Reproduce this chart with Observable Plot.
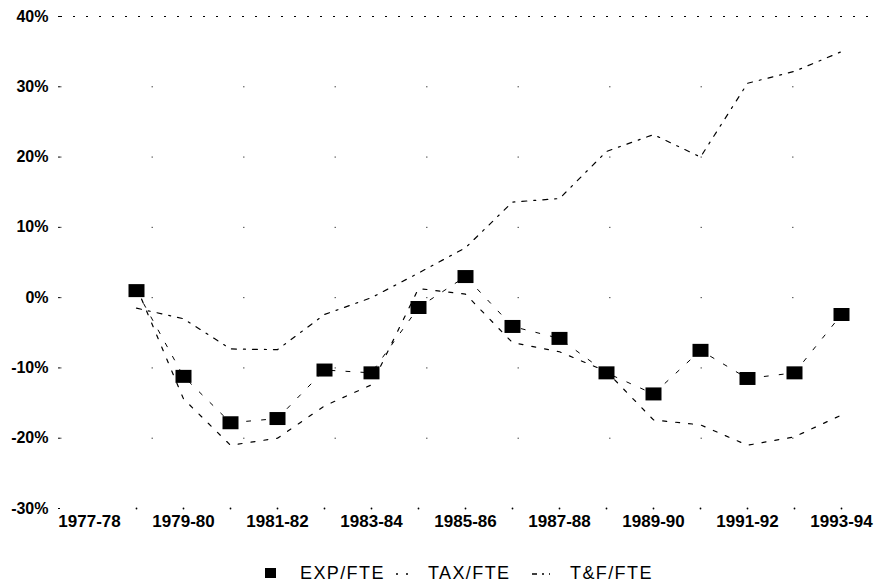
<!DOCTYPE html>
<html>
<head>
<meta charset="utf-8">
<script src="https://cdn.jsdelivr.net/npm/d3@7"></script>
<script src="https://cdn.jsdelivr.net/npm/@observablehq/plot@0.6"></script>
<style>
  html, body { margin: 0; padding: 0; background: #fff; }
  #wrap { position: relative; width: 883px; height: 588px; font-family: "Liberation Sans", Arial, sans-serif; color: #000; }
  #legend { position: absolute; left: 0; top: 545px; width: 883px; height: 43px; }
  #legend .item { position: absolute; top: 18px; font-size: 18px; line-height: 20px; letter-spacing: 1.4px; white-space: nowrap; }
  #legend svg { position: absolute; top: 18px; }
</style>
</head>
<body>
<div id="wrap">
  <div id="chart"></div>
  <div id="legend"></div>
</div>
<script>
// ---- data ----
const years = ["1977-78","1978-79","1979-80","1980-81","1981-82","1982-83","1983-84","1984-85","1985-86",
               "1986-87","1987-88","1988-89","1989-90","1990-91","1991-92","1992-93","1993-94"];
const expFte = [null, 1.0, -11.2, -17.8, -17.2, -10.3, -10.7, -1.4, 3.0, -4.1, -5.8, -10.7, -13.7, -7.5, -11.5, -10.7, -2.4];
const taxFte = [null, 1.5, -14.4, -21.0, -20.0, -15.4, -12.4, 1.3, 0.5, -6.4, -7.7, -10.5, -17.4, -18.1, -21.0, -19.8, -16.7];
const tfFte  = [null, -1.5, -3.0, -7.3, -7.4, -2.4, 0.0, 3.5, 7.1, 13.6, 14.1, 20.8, 23.2, 20.0, 30.5, 32.2, 35.0];
const yTicks = [40, 30, 20, 10, 0, -10, -20, -30];
const xLabels = ["1977-78","1979-80","1981-82","1983-84","1985-86","1987-88","1989-90","1991-92","1993-94"];
const seriesNames = ["EXP/FTE", "TAX/FTE", "T&F/FTE"];

const toRows = (arr) => years.map((year, i) => ({year, value: arr[i]})).filter(d => d.value != null);
const expRows = toRows(expFte), taxRows = toRows(taxFte), tfRows = toRows(tfFte);

const squareSymbol = { draw(ctx) { ctx.rect(-8, -6.5, 16, 13); } };

const chart = Plot.plot({
  width: 883,
  height: 545,
  marginLeft: 60,
  marginRight: 14,
  marginTop: 16,
  marginBottom: 37,
  style: { fontFamily: "'Liberation Sans', Arial, sans-serif", fontSize: "17px", color: "#000", background: "#fff" },
  x: { type: "point", domain: years, padding: 0.5, axis: null },
  y: { domain: [-30, 40], axis: null },
  marks: [
    Plot.ruleY([40], { stroke: "#000", strokeWidth: 1.2, strokeDasharray: "2,11" }),
    Plot.ruleY(yTicks.filter(d => d > -30 && d < 40), { stroke: "#000", strokeWidth: 1, strokeDasharray: "1.5,90", strokeOpacity: 0.7 }),
    Plot.axisY({ ticks: yTicks, tickFormat: d => d + "%", tickSize: 2, tickPadding: 10, fontSize: 16, fontWeight: "bold", label: null }),
    Plot.axisX({ ticks: xLabels, tickSize: 0, tickPadding: 6, fontSize: 17, fontWeight: "bold", label: null }),
    Plot.dot(years.slice(1), { x: d => d, y: () => -30, r: 0.9, fill: "#000" }),
    Plot.line(expRows, { x: "year", y: "value", stroke: "#000", strokeWidth: 1, strokeDasharray: "4,11" }),
    Plot.line(taxRows, { x: "year", y: "value", stroke: "#000", strokeWidth: 1.2, strokeDasharray: "4,9" }),
    Plot.line(tfRows, { x: "year", y: "value", stroke: "#000", strokeWidth: 1.2, strokeDasharray: "5,7,2,7" }),
    Plot.dot(expRows, { x: "year", y: "value", symbol: squareSymbol, fill: "#000", stroke: "none" })
  ]
});
document.getElementById("chart").appendChild(chart);

// ---- legend below the chart ----
const legend = document.getElementById("legend");
const legendLayout = [
  { name: seriesNames[0], swatchX: 264, textX: 300, kind: "square" },
  { name: seriesNames[1], swatchX: 394, textX: 428, kind: "dot" },
  { name: seriesNames[2], swatchX: 530, textX: 570, kind: "dashdot" }
];
const ns = "http://www.w3.org/2000/svg";
for (const it of legendLayout) {
  const svg = document.createElementNS(ns, "svg");
  svg.setAttribute("width", 22); svg.setAttribute("height", 20);
  svg.style.left = it.swatchX + "px";
  if (it.kind === "square") {
    const r = document.createElementNS(ns, "rect");
    r.setAttribute("x", 1); r.setAttribute("y", 5); r.setAttribute("width", 11); r.setAttribute("height", 10);
    r.setAttribute("fill", "#000");
    svg.appendChild(r);
  } else {
    const l = document.createElementNS(ns, "line");
    l.setAttribute("x1", 2); l.setAttribute("x2", 20); l.setAttribute("y1", 11); l.setAttribute("y2", 11);
    l.setAttribute("stroke", "#000"); l.setAttribute("stroke-width", 1.5);
    l.setAttribute("stroke-dasharray", it.kind === "dot" ? "2,8" : "5,5,2,5");
    svg.appendChild(l);
  }
  legend.appendChild(svg);
  const span = document.createElement("span");
  span.className = "item";
  span.style.left = it.textX + "px";
  span.textContent = it.name;
  legend.appendChild(span);
}
</script>
</body>
</html>
